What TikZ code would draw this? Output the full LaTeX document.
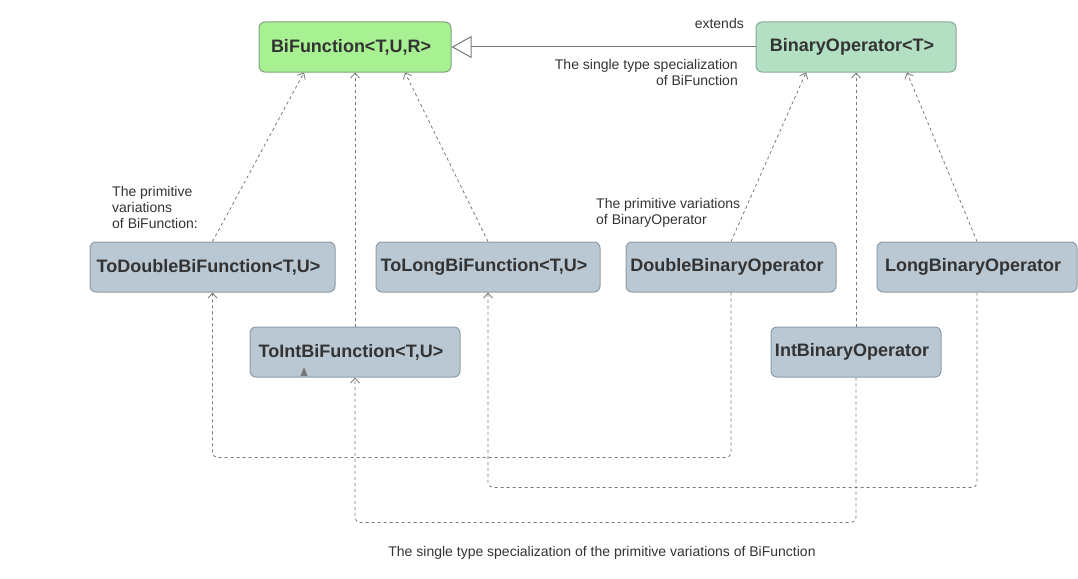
\documentclass[tikz,border=0pt]{standalone}
\usepackage{fontspec}
\setmainfont{Liberation Sans}
\usetikzlibrary{arrows.meta}
\definecolor{txt}{HTML}{333333}
\definecolor{edge}{HTML}{787878}
\definecolor{greenfill}{HTML}{A7F193}
\definecolor{greenline}{HTML}{84A07C}
\definecolor{mintfill}{HTML}{B3E0C2}
\definecolor{mintline}{HTML}{8CA794}
\definecolor{bluefill}{HTML}{BAC8D3}
\definecolor{blueline}{HTML}{8E9CA8}
\tikzset{
  iface/.style={draw=blueline, fill=bluefill, line width=1pt, rounded corners=6pt,
    minimum height=50pt, inner sep=0pt, text=txt,
    font=\fontsize{18}{22}\selectfont\bfseries,
    execute at begin node=\hspace*{-8pt}},
  note/.style={inner sep=0pt, text=txt, font=\fontsize{14}{16}\selectfont},
  dep/.style={draw=edge, line width=0.8pt, dash pattern=on 3pt off 3pt,
    -{Straight Barb[length=5pt,width=9pt]}},
  extends/.style={draw=edge, line width=1pt,
    -{Triangle[open,length=20pt,width=22pt,fill=white]}}
}
\begin{document}
\begin{tikzpicture}[x=1pt,y=-1pt]
\useasboundingbox (0,0) rectangle (1078,578);
% the two generic interfaces
\node[iface, draw=greenline, fill=greenfill, minimum width=192pt] (bif) at (355,47) {BiFunction<T,U,R>};
\node[iface, draw=mintline, fill=mintfill, minimum width=200pt] (bop) at (856,47) {BinaryOperator<T>};
% primitive variations
\node[iface, minimum width=245pt] (tdb) at (212.5,267) {ToDoubleBiFunction<T,U>};
\node[iface, minimum width=224pt] (tlb) at (488,267) {ToLongBiFunction<T,U>};
\node[iface, minimum width=210pt] (dbo) at (731,267) {DoubleBinaryOperator};
\node[iface, minimum width=200pt] (lbo) at (977,267) {LongBinaryOperator};
\node[iface, minimum width=210pt] (tib) at (355,352) {ToIntBiFunction<T,U>};
\node[iface, minimum width=170pt] (ibo) at (856,352) {IntBinaryOperator};
% texts
\node[note, anchor=east] (ext) at (744,23) {extends};
\node[note, anchor=east, align=right] (spec) at (738,72) {The single type specialization\\of BiFunction};
\node[note, anchor=west, align=left] (primf) at (112,207) {The primitive\\variations\\of BiFunction:};
\node[note, anchor=west, align=left] (primo) at (596,213) {The primitive variations\\of BinaryOperator};
\node[note] (bottom) at (602,553) {The single type specialization of the primitive variations of BiFunction};
% extends
\draw[extends] (bop.west) -- (bif.east);
% up to the generic interfaces
\draw[dep] (tdb.north) -- ([xshift=-51pt]bif.south);
\draw[dep] (tib.north) -- (bif.south);
\draw[dep] (tlb.north) -- ([xshift=50pt]bif.south);
\draw[dep] (dbo.north) -- ([xshift=-50pt]bop.south);
\draw[dep] (ibo.north) -- (bop.south);
\draw[dep] (lbo.north) -- ([xshift=51pt]bop.south);
% single type specializations
\draw[dep, rounded corners=5pt] (dbo.south) -- ++(0,165) -| (tdb.south);
\draw[dep, rounded corners=5pt] (lbo.south) -- ++(0,195) -| (tlb.south);
\draw[dep, rounded corners=5pt] (ibo.south) -- ++(0,145) -| (tib.south);
% small mark in ToIntBiFunction
\fill[edge] (304,367) -- (307.5,376) -- (300.5,376) -- cycle;
\end{tikzpicture}
\end{document}
